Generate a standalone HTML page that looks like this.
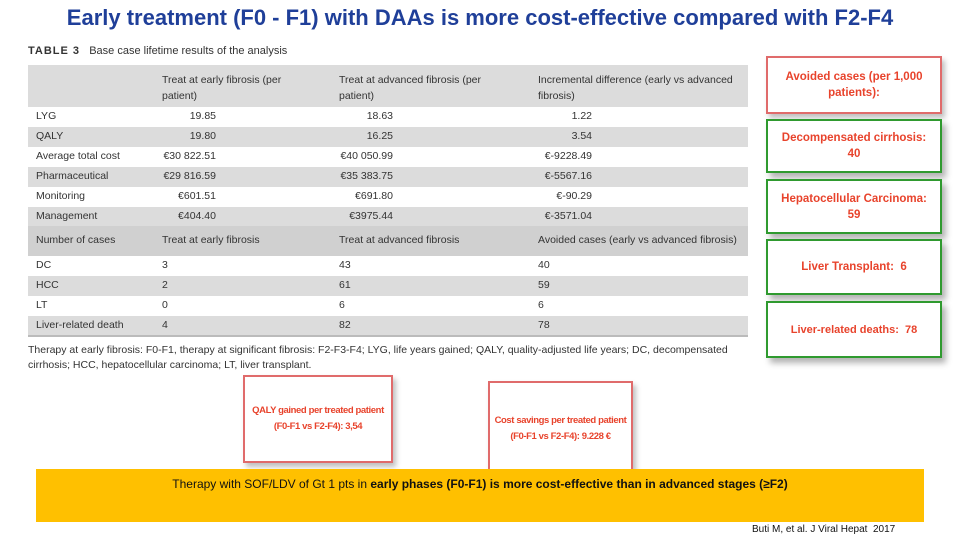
<!DOCTYPE html>
<html><head><meta charset="utf-8"><style>
body{margin:0;width:960px;height:540px;background:#fff;position:relative;overflow:hidden;font-family:"Liberation Sans",sans-serif}
.abs{position:absolute}
.t{font-size:10.5px;color:#333;white-space:nowrap}
.row{position:absolute;left:28px;width:720px}
.g{background:#dcdcdc}
.r{text-align:right;width:80px}
.box{position:absolute;background:#fff;border:2px solid;text-align:center;display:flex;align-items:center;justify-content:center;font-weight:bold;color:#e8432c;font-size:11.5px;line-height:16px;box-sizing:border-box;white-space:nowrap}
.red{border-color:#e06b6b;box-shadow:3px 4px 5px rgba(0,0,0,.25)}
.grn{border-color:#2f9a2f;box-shadow:4px 5px 6px rgba(0,0,0,.3)}
.sm{font-size:9.5px;letter-spacing:-0.4px}
</style></head><body>
<div class="abs" style="left:0;top:5px;width:960px;text-align:center;font-size:22px;font-weight:bold;color:#1f3f99">Early treatment (F0 - F1) with DAAs is more cost-effective compared with F2-F4</div>
<div class="abs t" style="left:28px;top:45px;font-size:11px"><b style="letter-spacing:1px">TABLE 3</b>&nbsp;&nbsp; Base case lifetime results of the analysis</div>
<div id="tbl"></div>
<div class="abs t" style="left:28px;top:343px;line-height:15px;font-size:10.5px">Therapy at early fibrosis: F0-F1, therapy at significant fibrosis: F2-F3-F4; LYG, life years gained; QALY, quality-adjusted life years; DC, decompensated<br>cirrhosis; HCC, hepatocellular carcinoma; LT, liver transplant.</div>

<div class="box red" style="left:766px;top:56px;width:176px;height:58px">Avoided cases (per 1,000<br>patients):</div>
<div class="box grn" style="left:766px;top:119px;width:176px;height:54px">Decompensated cirrhosis:<br>40</div>
<div class="box grn" style="left:766px;top:179px;width:176px;height:55px">Hepatocellular Carcinoma:<br>59</div>
<div class="box grn" style="left:766px;top:239px;width:176px;height:56px">Liver Transplant:&nbsp; 6</div>
<div class="box grn" style="left:766px;top:301px;width:176px;height:57px;font-size:11px">Liver-related deaths:&nbsp; 78</div>

<div class="box red sm" style="left:243px;top:375px;width:150px;height:88px">QALY gained&nbsp;per treated patient<br>(F0-F1 vs F2-F4): 3,54</div>
<div class="box red sm" style="left:488px;top:381px;width:145px;height:95px">Cost savings&nbsp;per treated patient<br>(F0-F1 vs F2-F4): 9.228 €</div>

<div class="abs" style="left:36px;top:469px;width:888px;height:53px;background:#ffc000"><div style="padding-top:8px;text-align:center;font-size:12px;color:#111">Therapy with SOF/LDV of Gt 1 pts in <b>early phases (F0-F1) is more cost-effective than in advanced stages (≥F2)</b></div></div>
<div class="abs" style="left:752px;top:524px;font-size:10px;color:#111;line-height:12px">Buti M, et al. J Viral Hepat&nbsp; 2017</div>

<script>
const top1=[["LYG","19.85","18.63","1.22"],["QALY","19.80","16.25","3.54"],["Average total cost","€30 822.51","€40 050.99","€-9228.49"],["Pharmaceutical","€29 816.59","€35 383.75","€-5567.16"],["Monitoring","€601.51","€691.80","€-90.29"],["Management","€404.40","€3975.44","€-3571.04"]];
const cases=[["DC","3","43","40"],["HCC","2","61","59"],["LT","0","6","6"],["Liver-related death","4","82","78"]];
const T=document.getElementById('tbl');
function row(y,h,gray,name){const d=document.createElement('div');d.className='row'+(gray?' g':'');d.style.top=y+'px';d.style.height=h+'px';


T.appendChild(d);return d;}
function cell(p,txt,x,y,right){const s=document.createElement('div');s.className='abs t'+(right?' r':'');s.style.left=(right?x-80:x)-28+'px';s.style.top=y+'px';s.innerHTML=txt;


p.appendChild(s);}
let h=row(65,42,true,'header-row');
cell(h,'Treat at early fibrosis (per<br>patient)',162,7);cell(h,'Treat at advanced fibrosis (per<br>patient)',339,7);cell(h,'Incremental difference (early vs advanced<br>fibrosis)',538,7);
h.querySelectorAll('div').forEach(e=>e.style.lineHeight='16px');
const ends=[216,393,592];
top1.forEach((r,i)=>{const d=row(107+i*20,20,i%2==1,'row-'+r[0].toLowerCase().replace(/ /g,'-'));cell(d,r[0],36,3);for(let k=1;k<4;k++)cell(d,r[k],ends[k-1],3,true);});
h=row(226,30,true,'cases-header-row');h.style.background='#d0d0d0';
cell(h,'Number of cases',36,8);cell(h,'Treat at early fibrosis',162,8);cell(h,'Treat at advanced fibrosis',339,8);cell(h,'Avoided cases (early vs advanced fibrosis)',538,8);
cases.forEach((r,i)=>{const d=row(256+i*20,20,i%2==1,'row-'+r[0].toLowerCase().replace(/ /g,'-'));cell(d,r[0],36,3);cell(d,r[1],162,3);cell(d,r[2],339,3);cell(d,r[3],538,3);});
const ln=row(335,2,false,'table-bottom-rule');ln.style.background='#bbb';
</script>
</body></html>
